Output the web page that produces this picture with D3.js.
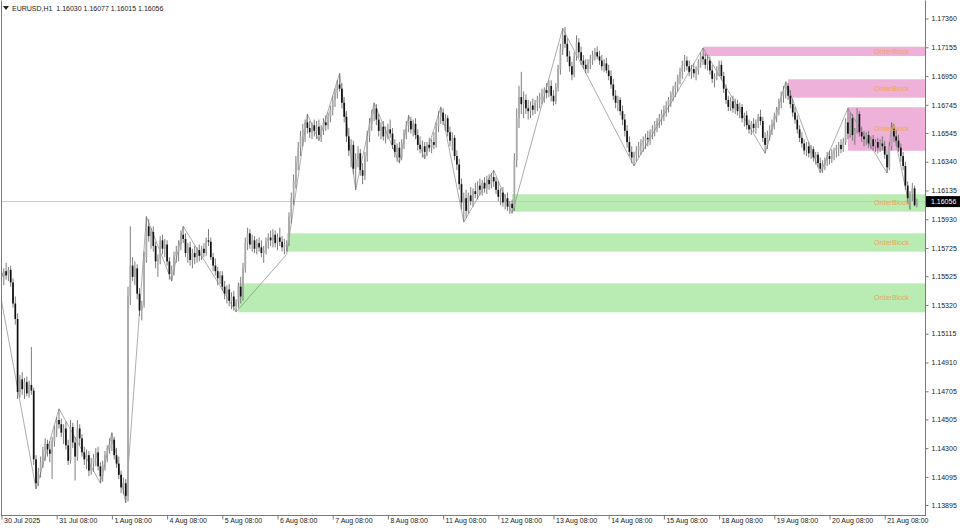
<!DOCTYPE html>
<html><head><meta charset="utf-8">
<script src="https://cdn.jsdelivr.net/npm/d3@7/dist/d3.min.js"></script>
<style>html,body{margin:0;padding:0;background:#fff;}svg{display:block;}</style>
</head><body>
<svg id="c" width="960" height="528"></svg>
<script>
// ---------------- DATA ----------------
const symbolName = "EURUSD,H1";
const lastQuote = ["1.16030", "1.16077", "1.16015", "1.16056"];
const currentPrice = 1.16056;

const xTickLabels = ["30 Jul 2025","31 Jul 08:00","1 Aug 08:00","4 Aug 08:00","5 Aug 08:00","6 Aug 08:00","7 Aug 08:00","8 Aug 08:00","11 Aug 08:00","12 Aug 08:00","13 Aug 08:00","14 Aug 08:00","15 Aug 08:00","18 Aug 08:00","19 Aug 08:00","20 Aug 08:00","21 Aug 08:00"];
const xTickBars = [0,24,48,72,96,120,144,168,192,216,240,264,288,312,336,360,384];
const yTickValues = [1.17360,1.17155,1.16950,1.16745,1.16545,1.16340,1.16135,1.15930,1.15725,1.15525,1.15320,1.15115,1.14910,1.14705,1.14505,1.14300,1.14095,1.13895];

const open = [
1.1555,1.1552,1.1556,1.1553,1.1557,1.1548,1.1533,1.1522,1.1470,1.1479,1.1472,1.1477,1.1469,1.1475,1.1471,1.1422,1.1405,1.1413,1.1420,1.1428,1.1433,1.1429,1.1426,1.1435,
1.1443,1.1450,1.1447,1.1441,1.1444,1.1432,1.1421,1.1445,1.1434,1.1424,1.1444,1.1437,1.1427,1.1422,1.1425,1.1414,1.1419,1.1423,1.1427,1.1417,1.1410,1.1418,1.1425,1.1430,
1.1433,1.1436,1.1425,1.1419,1.1411,1.1402,1.1405,1.1396,1.1538,1.1560,1.1552,1.1558,1.1540,1.1528,1.1532,1.1566,1.1588,1.1581,1.1584,1.1574,1.1563,1.1565,1.1578,1.1572,
1.1575,1.1563,1.1554,1.1557,1.1567,1.1570,1.1575,1.1582,1.1579,1.1569,1.1573,1.1564,1.1569,1.1566,1.1571,1.1567,1.1572,1.1569,1.1578,1.1577,1.1566,1.1560,1.1556,1.1551,
1.1553,1.1545,1.1540,1.1543,1.1535,1.1538,1.1531,1.1534,1.1545,1.1538,1.1558,1.1576,1.1583,1.1575,1.1578,1.1572,1.1576,1.1573,1.1569,1.1571,1.1577,1.1580,1.1578,1.1582,
1.1576,1.1580,1.1577,1.1573,1.1575,1.1576,1.1595,1.1608,1.1620,1.1634,1.1644,1.1652,1.1657,1.1662,1.1658,1.1655,1.1660,1.1656,1.1659,1.1653,1.1657,1.1662,1.1660,1.1666,
1.1671,1.1678,1.1683,1.1689,1.1686,1.1676,1.1666,1.1652,1.1642,1.1646,1.1629,1.1636,1.1640,1.1628,1.1624,1.1638,1.1652,1.1661,1.1668,1.1672,1.1664,1.1656,1.1659,1.1652,
1.1655,1.1657,1.1654,1.1646,1.1641,1.1644,1.1637,1.1647,1.1654,1.1660,1.1663,1.1657,1.1661,1.1653,1.1646,1.1643,1.1645,1.1641,1.1646,1.1644,1.1648,1.1646,1.1659,1.1666,
1.1669,1.1663,1.1665,1.1655,1.1649,1.1651,1.1638,1.1632,1.1618,1.1605,1.1608,1.1599,1.1610,1.1606,1.1613,1.1611,1.1617,1.1614,1.1619,1.1615,1.1621,1.1618,1.1623,1.1620,
1.1614,1.1609,1.1612,1.1605,1.1608,1.1602,1.1604,1.1601,1.1635,1.1665,1.1680,1.1675,1.1678,1.1672,1.1670,1.1674,1.1671,1.1676,1.1678,1.1680,1.1682,1.1685,1.1683,1.1688,
1.1681,1.1677,1.1687,1.1700,1.1714,1.1724,1.1718,1.1709,1.1702,1.1696,1.1709,1.1719,1.1712,1.1706,1.1703,1.1700,1.1704,1.1707,1.1710,1.1712,1.1709,1.1706,1.1702,1.1704,
1.1699,1.1695,1.1689,1.1681,1.1676,1.1678,1.1670,1.1664,1.1656,1.1648,1.1641,1.1637,1.1639,1.1642,1.1645,1.1647,1.1649,1.1651,1.1650,1.1655,1.1657,1.1660,1.1663,1.1665,
1.1668,1.1671,1.1674,1.1678,1.1682,1.1686,1.1689,1.1694,1.1698,1.1703,1.1706,1.1702,1.1698,1.1700,1.1697,1.1699,1.1705,1.1709,1.1707,1.1703,1.1706,1.1699,1.1693,1.1695,
1.1699,1.1703,1.1695,1.1686,1.1678,1.1673,1.1677,1.1672,1.1675,1.1670,1.1673,1.1665,1.1667,1.1660,1.1657,1.1661,1.1658,1.1662,1.1666,1.1663,1.1651,1.1646,1.1653,1.1657,
1.1661,1.1666,1.1671,1.1677,1.1681,1.1685,1.1688,1.1681,1.1675,1.1669,1.1664,1.1657,1.1651,1.1647,1.1642,1.1645,1.1640,1.1643,1.1637,1.1639,1.1633,1.1629,1.1632,1.1635,
1.1638,1.1636,1.1640,1.1642,1.1644,1.1646,1.1643,1.1648,1.1662,1.1654,1.1665,1.1653,1.1656,1.1668,1.1655,1.1652,1.1650,1.1653,1.1647,1.1650,1.1645,1.1648,1.1644,1.1647,
1.1645,1.1639,1.1630,1.1645,1.1658,1.1652,1.1649,1.1644,1.1638,1.1631,1.1617,1.1608,1.1611,1.1615,1.16030];

const high = [
1.1560,1.1558,1.1562,1.1559,1.1560,1.1551,1.1538,1.1526,1.1482,1.1484,1.1480,1.1481,1.1478,1.1502,1.1473,1.1425,1.1416,1.1424,1.1431,1.1437,1.1436,1.1435,1.1438,1.1446,
1.1452,1.1458,1.1451,1.1447,1.1449,1.1436,1.1450,1.1448,1.1438,1.1450,1.1447,1.1440,1.1431,1.1429,1.1428,1.1423,1.1426,1.1430,1.1431,1.1420,1.1421,1.1428,1.1432,1.1437,
1.1441,1.1438,1.1430,1.1424,1.1414,1.1409,1.1408,1.1545,1.1588,1.1566,1.1563,1.1561,1.1544,1.1535,1.1570,1.1595,1.1593,1.1587,1.1588,1.1577,1.1568,1.1581,1.1582,1.1579,
1.1578,1.1566,1.1560,1.1570,1.1574,1.1578,1.1585,1.1588,1.1583,1.1576,1.1577,1.1572,1.1574,1.1573,1.1575,1.1574,1.1576,1.1580,1.1586,1.1580,1.1569,1.1565,1.1559,1.1556,
1.1556,1.1549,1.1546,1.1547,1.1541,1.1542,1.1536,1.1548,1.1552,1.1562,1.1580,1.1587,1.1586,1.1582,1.1581,1.1579,1.1580,1.1578,1.1574,1.1580,1.1583,1.1585,1.1586,1.1585,
1.1583,1.1587,1.1581,1.1579,1.1578,1.1598,1.1612,1.1625,1.1638,1.1648,1.1656,1.1661,1.1664,1.1668,1.1663,1.1662,1.1664,1.1663,1.1664,1.1660,1.1665,1.1667,1.1669,1.1674,
1.1681,1.1686,1.1692,1.1697,1.1690,1.1680,1.1670,1.1658,1.1650,1.1649,1.1640,1.1645,1.1643,1.1633,1.1641,1.1656,1.1665,1.1671,1.1676,1.1675,1.1668,1.1662,1.1663,1.1659,
1.1661,1.1664,1.1658,1.1650,1.1647,1.1648,1.1650,1.1657,1.1663,1.1667,1.1666,1.1664,1.1665,1.1657,1.1652,1.1649,1.1648,1.1648,1.1651,1.1650,1.1655,1.1662,1.1670,1.1673,
1.1672,1.1668,1.1667,1.1659,1.1655,1.1653,1.1642,1.1636,1.1622,1.1612,1.1614,1.1612,1.1616,1.1615,1.1619,1.1620,1.1622,1.1621,1.1623,1.1624,1.1625,1.1626,1.1628,1.1623,
1.1620,1.1615,1.1616,1.1611,1.1612,1.1606,1.1607,1.1640,1.1672,1.1688,1.1698,1.1684,1.1682,1.1678,1.1677,1.1679,1.1678,1.1681,1.1683,1.1686,1.1687,1.1690,1.1692,1.1692,
1.1685,1.1690,1.1703,1.1718,1.1729,1.1730,1.1722,1.1713,1.1705,1.1712,1.1724,1.1722,1.1716,1.1710,1.1707,1.1707,1.1710,1.1713,1.1715,1.1716,1.1713,1.1710,1.1707,1.1708,
1.1703,1.1699,1.1693,1.1685,1.1681,1.1680,1.1674,1.1668,1.1660,1.1652,1.1645,1.1641,1.1645,1.1648,1.1650,1.1652,1.1654,1.1656,1.1657,1.1660,1.1663,1.1665,1.1668,1.1671,
1.1674,1.1677,1.1680,1.1684,1.1688,1.1691,1.1696,1.1701,1.1706,1.1710,1.1709,1.1706,1.1703,1.1704,1.1702,1.1707,1.1712,1.1715,1.1711,1.1710,1.1709,1.1703,1.1697,1.1702,
1.1706,1.1706,1.1698,1.1689,1.1681,1.1680,1.1681,1.1679,1.1678,1.1676,1.1675,1.1669,1.1670,1.1664,1.1663,1.1665,1.1664,1.1668,1.1671,1.1666,1.1655,1.1656,1.1660,1.1664,
1.1669,1.1673,1.1679,1.1684,1.1688,1.1691,1.1690,1.1685,1.1679,1.1673,1.1667,1.1660,1.1655,1.1650,1.1648,1.1648,1.1646,1.1645,1.1641,1.1641,1.1637,1.1635,1.1637,1.1641,
1.1642,1.1643,1.1644,1.1646,1.1648,1.1650,1.1651,1.1665,1.1672,1.1669,1.1668,1.1658,1.1672,1.1670,1.1659,1.1656,1.1655,1.1656,1.1652,1.1653,1.1650,1.1651,1.1650,1.1652,
1.1649,1.1642,1.1648,1.1662,1.1661,1.1657,1.1653,1.1647,1.1641,1.1634,1.1620,1.1613,1.1619,1.1617,1.16077];

const low = [
1.1548,1.1546,1.1550,1.1549,1.1545,1.1530,1.1518,1.1465,1.1466,1.1468,1.1465,1.1467,1.1466,1.1468,1.1418,1.1401,1.1403,1.1409,1.1416,1.1421,1.1424,1.1420,1.1408,1.1431,
1.1438,1.1444,1.1438,1.1433,1.1429,1.1418,1.1419,1.1430,1.1407,1.1421,1.1432,1.1424,1.1418,1.1415,1.1410,1.1411,1.1413,1.1417,1.1414,1.1405,1.1406,1.1414,1.1420,1.1426,
1.1428,1.1422,1.1416,1.1408,1.1398,1.1397,1.1391,1.1392,1.1532,1.1549,1.1546,1.1536,1.1524,1.1521,1.1530,1.1562,1.1577,1.1572,1.1570,1.1558,1.1552,1.1561,1.1568,1.1566,
1.1560,1.1550,1.1549,1.1553,1.1562,1.1563,1.1571,1.1576,1.1566,1.1562,1.1560,1.1558,1.1561,1.1562,1.1563,1.1564,1.1566,1.1567,1.1574,1.1564,1.1556,1.1553,1.1546,1.1547,
1.1542,1.1536,1.1533,1.1531,1.1529,1.1528,1.1527,1.1530,1.1533,1.1535,1.1555,1.1571,1.1572,1.1570,1.1569,1.1568,1.1570,1.1566,1.1562,1.1568,1.1572,1.1574,1.1573,1.1573,
1.1571,1.1574,1.1570,1.1568,1.1570,1.1574,1.1590,1.1603,1.1615,1.1628,1.1638,1.1645,1.1648,1.1654,1.1651,1.1650,1.1652,1.1650,1.1649,1.1648,1.1653,1.1656,1.1657,1.1662,
1.1667,1.1673,1.1679,1.1684,1.1672,1.1662,1.1648,1.1638,1.1630,1.1625,1.1614,1.1630,1.1624,1.1618,1.1621,1.1634,1.1648,1.1656,1.1663,1.1660,1.1652,1.1650,1.1649,1.1647,
1.1650,1.1651,1.1643,1.1637,1.1634,1.1633,1.1635,1.1643,1.1650,1.1655,1.1654,1.1652,1.1650,1.1642,1.1640,1.1637,1.1636,1.1638,1.1641,1.1640,1.1643,1.1644,1.1655,1.1661,
1.1660,1.1656,1.1652,1.1645,1.1642,1.1635,1.1628,1.1614,1.1600,1.1591,1.1594,1.1597,1.1603,1.1602,1.1608,1.1607,1.1610,1.1610,1.1612,1.1611,1.1614,1.1615,1.1616,1.1611,
1.1606,1.1603,1.1602,1.1600,1.1599,1.1597,1.1598,1.1599,1.1630,1.1658,1.1668,1.1665,1.1668,1.1664,1.1665,1.1667,1.1668,1.1670,1.1672,1.1675,1.1676,1.1679,1.1680,1.1677,
1.1674,1.1675,1.1684,1.1696,1.1710,1.1715,1.1705,1.1698,1.1692,1.1694,1.1706,1.1708,1.1703,1.1700,1.1697,1.1697,1.1700,1.1703,1.1706,1.1707,1.1703,1.1699,1.1698,1.1697,
1.1692,1.1686,1.1678,1.1672,1.1670,1.1667,1.1660,1.1652,1.1644,1.1638,1.1633,1.1631,1.1634,1.1637,1.1639,1.1641,1.1643,1.1645,1.1646,1.1650,1.1652,1.1655,1.1658,1.1660,
1.1663,1.1666,1.1669,1.1673,1.1677,1.1680,1.1684,1.1689,1.1693,1.1698,1.1699,1.1695,1.1693,1.1694,1.1692,1.1696,1.1701,1.1703,1.1700,1.1699,1.1696,1.1690,1.1687,1.1692,
1.1695,1.1692,1.1683,1.1675,1.1670,1.1670,1.1669,1.1668,1.1667,1.1665,1.1662,1.1659,1.1657,1.1654,1.1653,1.1655,1.1654,1.1658,1.1660,1.1648,1.1640,1.1643,1.1649,1.1653,
1.1657,1.1662,1.1667,1.1672,1.1676,1.1679,1.1678,1.1672,1.1666,1.1661,1.1654,1.1648,1.1644,1.1639,1.1638,1.1637,1.1636,1.1634,1.1632,1.1630,1.1626,1.1626,1.1628,1.1631,
1.1632,1.1633,1.1635,1.1637,1.1638,1.1640,1.1641,1.1646,1.1650,1.1651,1.1649,1.1646,1.1654,1.1652,1.1648,1.1645,1.1646,1.1644,1.1643,1.1642,1.1641,1.1640,1.1641,1.1642,
1.1636,1.1626,1.1628,1.1642,1.1648,1.1645,1.1641,1.1634,1.1628,1.1614,1.1604,1.1600,1.1606,1.1602,1.16015];

const close = [
1.1552,1.1556,1.1553,1.1557,1.1548,1.1533,1.1522,1.1470,1.1479,1.1472,1.1477,1.1469,1.1475,1.1471,1.1422,1.1405,1.1413,1.1420,1.1428,1.1433,1.1429,1.1426,1.1435,1.1443,
1.1450,1.1447,1.1441,1.1444,1.1432,1.1421,1.1445,1.1434,1.1424,1.1444,1.1437,1.1427,1.1422,1.1425,1.1414,1.1419,1.1423,1.1427,1.1417,1.1410,1.1418,1.1425,1.1430,1.1433,
1.1436,1.1425,1.1419,1.1411,1.1402,1.1405,1.1396,1.1538,1.1560,1.1552,1.1558,1.1540,1.1528,1.1532,1.1566,1.1588,1.1581,1.1584,1.1574,1.1563,1.1565,1.1578,1.1572,1.1575,
1.1563,1.1554,1.1557,1.1567,1.1570,1.1575,1.1582,1.1579,1.1569,1.1573,1.1564,1.1569,1.1566,1.1571,1.1567,1.1572,1.1569,1.1578,1.1577,1.1566,1.1560,1.1556,1.1551,1.1553,
1.1545,1.1540,1.1543,1.1535,1.1538,1.1531,1.1534,1.1545,1.1538,1.1558,1.1576,1.1583,1.1575,1.1578,1.1572,1.1576,1.1573,1.1569,1.1571,1.1577,1.1580,1.1578,1.1582,1.1576,
1.1580,1.1577,1.1573,1.1575,1.1576,1.1595,1.1608,1.1620,1.1634,1.1644,1.1652,1.1657,1.1662,1.1658,1.1655,1.1660,1.1656,1.1659,1.1653,1.1657,1.1662,1.1660,1.1666,1.1671,
1.1678,1.1683,1.1689,1.1686,1.1676,1.1666,1.1652,1.1642,1.1646,1.1629,1.1636,1.1640,1.1628,1.1624,1.1638,1.1652,1.1661,1.1668,1.1672,1.1664,1.1656,1.1659,1.1652,1.1655,
1.1657,1.1654,1.1646,1.1641,1.1644,1.1637,1.1647,1.1654,1.1660,1.1663,1.1657,1.1661,1.1653,1.1646,1.1643,1.1645,1.1641,1.1646,1.1644,1.1648,1.1646,1.1659,1.1666,1.1669,
1.1663,1.1665,1.1655,1.1649,1.1651,1.1638,1.1632,1.1618,1.1605,1.1608,1.1599,1.1610,1.1606,1.1613,1.1611,1.1617,1.1614,1.1619,1.1615,1.1621,1.1618,1.1623,1.1620,1.1614,
1.1609,1.1612,1.1605,1.1608,1.1602,1.1604,1.1601,1.1635,1.1665,1.1680,1.1675,1.1678,1.1672,1.1670,1.1674,1.1671,1.1676,1.1678,1.1680,1.1682,1.1685,1.1683,1.1688,1.1681,
1.1677,1.1687,1.1700,1.1714,1.1724,1.1718,1.1709,1.1702,1.1696,1.1709,1.1719,1.1712,1.1706,1.1703,1.1700,1.1704,1.1707,1.1710,1.1712,1.1709,1.1706,1.1702,1.1704,1.1699,
1.1695,1.1689,1.1681,1.1676,1.1678,1.1670,1.1664,1.1656,1.1648,1.1641,1.1637,1.1639,1.1642,1.1645,1.1647,1.1649,1.1651,1.1650,1.1655,1.1657,1.1660,1.1663,1.1665,1.1668,
1.1671,1.1674,1.1678,1.1682,1.1686,1.1689,1.1694,1.1698,1.1703,1.1706,1.1702,1.1698,1.1700,1.1697,1.1699,1.1705,1.1709,1.1707,1.1703,1.1706,1.1699,1.1693,1.1695,1.1699,
1.1703,1.1695,1.1686,1.1678,1.1673,1.1677,1.1672,1.1675,1.1670,1.1673,1.1665,1.1667,1.1660,1.1657,1.1661,1.1658,1.1662,1.1666,1.1663,1.1651,1.1646,1.1653,1.1657,1.1661,
1.1666,1.1671,1.1677,1.1681,1.1685,1.1688,1.1681,1.1675,1.1669,1.1664,1.1657,1.1651,1.1647,1.1642,1.1645,1.1640,1.1643,1.1637,1.1639,1.1633,1.1629,1.1632,1.1635,1.1638,
1.1636,1.1640,1.1642,1.1644,1.1646,1.1643,1.1648,1.1662,1.1654,1.1665,1.1653,1.1656,1.1668,1.1655,1.1652,1.1650,1.1653,1.1647,1.1650,1.1645,1.1648,1.1644,1.1647,1.1645,
1.1639,1.1630,1.1645,1.1658,1.1652,1.1649,1.1644,1.1638,1.1631,1.1617,1.1608,1.1611,1.1615,1.1603,1.16056];

const zigzagBars = [0,15,25,43,48,54,63,74,79,102,124,133,138,147,154,162,173,177,184,191,201,214,222,244,275,305,332,341,356,368,385,387,395];
const zigzagPrices = [1.1535,1.1401,1.1458,1.1405,1.1441,1.1391,1.1595,1.1549,1.1588,1.1527,1.1568,1.1668,1.1649,1.1697,1.1614,1.1676,1.1633,1.1667,1.1636,1.1673,1.1591,1.1628,1.1597,1.1729,1.1631,1.1715,1.1640,1.1691,1.1626,1.1672,1.1626,1.1662,1.1600];

const obStartBars = [305, 342, 368, 222, 124, 103];
const obTops = [1.17159, 1.16927, 1.16728, 1.16108, 1.15830, 1.15474];
const obBottoms = [1.17093, 1.16796, 1.16418, 1.15984, 1.15699, 1.15267];
const obKinds = ["supply","supply","supply","demand","demand","demand"];
const obLabel = "OrderBlock";

// ---------------- DRAW ----------------
const W = 960, H = 528;
const plotLeft = 1, plotRight = 925, plotTop = 1, plotBottom = 515;
const svg = d3.select("#c");
const font = "'Liberation Sans', Arial, sans-serif";

const x = d3.scaleLinear().domain([0, 398]).range([1.5, 916.9]);
const y = d3.scaleLinear().domain([1.13895, 1.17360]).range([505, 18.5]);

svg.append("rect").attr("width", W).attr("height", H).attr("fill", "#fff");

const plot = svg.append("g");
plot.append("clipPath").attr("id", "clip").append("rect")
  .attr("x", plotLeft).attr("y", plotTop).attr("width", plotRight - plotLeft).attr("height", plotBottom - plotTop);
const g = plot.append("g").attr("clip-path", "url(#clip)");

// order blocks
const obColors = { supply: "#eeb2da", demand: "#b9ecb2" };
g.selectAll("rect.ob").data(d3.range(obStartBars.length)).join("rect")
  .attr("class", "ob")
  .attr("x", i => x(obStartBars[i]))
  .attr("width", i => plotRight - x(obStartBars[i]))
  .attr("y", i => y(obTops[i]))
  .attr("height", i => y(obBottoms[i]) - y(obTops[i]))
  .attr("fill", i => obColors[obKinds[i]]);

// price line
g.append("line").attr("x1", plotLeft).attr("x2", plotRight)
  .attr("y1", y(currentPrice)).attr("y2", y(currentPrice))
  .attr("stroke", "#c8c8c8").attr("stroke-width", 1);

// zigzag
const zz = d3.line().x(i => x(zigzagBars[i])).y(i => y(zigzagPrices[i]));
g.append("path").attr("d", zz(d3.range(zigzagBars.length)))
  .attr("fill", "none").attr("stroke", "#8a8a8a").attr("stroke-width", 0.7);

// candles
const bars = d3.range(close.length);
g.selectAll("line.wick").data(bars).join("line")
  .attr("class", "wick")
  .attr("x1", i => x(i)).attr("x2", i => x(i))
  .attr("y1", i => y(high[i])).attr("y2", i => y(low[i]))
  .attr("stroke", "#6e6e6e").attr("stroke-width", 0.9);
g.selectAll("rect.body").data(bars).join("rect")
  .attr("class", "body")
  .attr("x", i => x(i) - 0.85).attr("width", 1.7)
  .attr("y", i => y(Math.max(open[i], close[i])))
  .attr("height", i => Math.max(0.7, Math.abs(y(open[i]) - y(close[i]))))
  .attr("fill", i => close[i] >= open[i] ? "#a8a8a8" : "#111");

// order block labels
g.selectAll("text.obl").data(d3.range(obStartBars.length)).join("text")
  .attr("class", "obl")
  .attr("x", 909)
  .attr("y", i => (y(obTops[i]) + y(obBottoms[i])) / 2)
  .attr("dy", "0.35em")
  .attr("text-anchor", "end")
  .attr("font-family", font).attr("font-size", 7)
  .attr("fill", "#f0a35e")
  .text(obLabel);

// frame
svg.append("path")
  .attr("d", `M${plotLeft + 0.5},${plotBottom + 0.5}V${plotTop - 0.5}M${plotRight + 0.5},${plotTop - 0.5}V${plotBottom + 0.5}M${plotLeft},${plotBottom + 0.5}H${plotRight + 1}`)
  .attr("stroke", "#7a7a7a").attr("fill", "none").attr("stroke-width", 1);

// y axis
const yAxis = d3.axisRight(y).tickValues(yTickValues).tickFormat(d3.format(".5f")).tickSize(3).tickPadding(3);
const ya = svg.append("g").attr("transform", `translate(${plotRight + 0.5},0)`).call(yAxis);
ya.select(".domain").remove();
ya.selectAll(".tick line").attr("stroke", "#7a7a7a");
ya.selectAll(".tick text").attr("font-family", font).attr("font-size", 7).attr("fill", "#222");

// current price label
const cp = svg.append("g").attr("transform", `translate(${plotRight + 1},${y(currentPrice)})`);
cp.append("rect").attr("x", 0).attr("y", -5.5).attr("width", 34).attr("height", 11).attr("fill", "#000");
cp.append("text").attr("x", 5).attr("dy", "0.35em").attr("font-family", font).attr("font-size", 7)
  .attr("fill", "#fff").text(d3.format(".5f")(currentPrice));

// x axis
const xAxis = d3.axisBottom(x).tickValues(xTickBars).tickFormat((d, i) => xTickLabels[i]).tickSize(4).tickPadding(2);
const xa = svg.append("g").attr("transform", `translate(0,${plotBottom + 0.5})`).call(xAxis);
xa.select(".domain").remove();
xa.selectAll(".tick line").attr("stroke", "#7a7a7a");
xa.selectAll(".tick text").attr("text-anchor", "start").attr("x", 2).attr("y", 3)
  .attr("font-family", font).attr("font-size", 7).attr("fill", "#222");

// header
svg.append("path").attr("d", "M3,6H9L6,10Z").attr("fill", "#222");
svg.append("text").attr("x", 12).attr("y", 11)
  .attr("font-family", font).attr("font-size", 7).attr("fill", "#222")
  .attr("xml:space", "preserve")
  .text(symbolName + "  " + lastQuote.join(" "));
</script>
</body></html>
